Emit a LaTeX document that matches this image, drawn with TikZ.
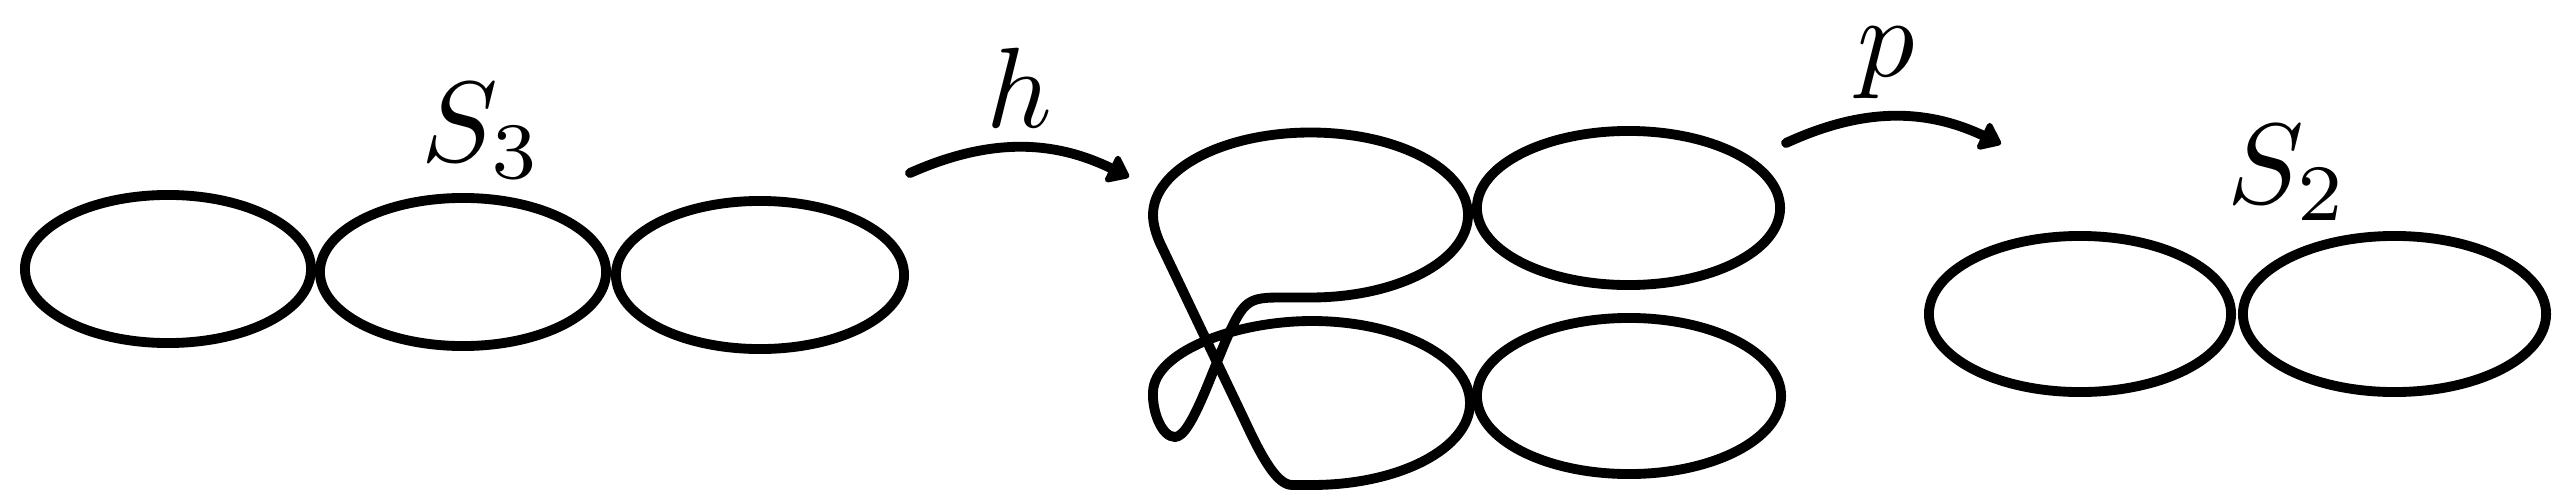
\documentclass[tikz,border=0pt]{standalone}
\usetikzlibrary{arrows.meta,shapes.geometric}
\begin{document}
\begin{tikzpicture}[x=0.01cm,y=-0.01cm,line width=2.8pt,line join=round,line cap=round,
  loopA/.style={draw,ellipse,inner sep=0pt,outer sep=0pt,line width=2.8pt},
  lbl/.style={scale=3.25,inner sep=0pt,anchor=base},
  maparrow/.style={-{Triangle[round,length=6.5pt,width=9.5pt]},bend left=25}]
\useasboundingbox (0,0) rectangle (2563,500);
% left figure S_3
\node[loopA,minimum width=2.86cm,minimum height=1.48cm] (a1) at (168,269) {};
\node[loopA,minimum width=2.86cm,minimum height=1.48cm] (a2) at (463,272) {};
\node[loopA,minimum width=2.88cm,minimum height=1.48cm] (a3) at (760,275) {};
\node[lbl] (s3) at (482,161) {$S_3$};
% arrow h
\coordinate (hs) at (910,173);
\coordinate (he) at (1129,177);
\draw[maparrow] (hs) to (he);
\node[lbl] (hl) at (1019,127) {$h$};
% middle figure
\node[loopA,minimum width=3.03cm,minimum height=1.54cm] (b2) at (1628.5,208) {};
\node[loopA,minimum width=3.04cm,minimum height=1.56cm] (b4) at (1629,396) {};
\draw (1153,215)
 .. controls (1153,169.4) and (1223.5,132.5) .. (1310.5,132.5)
 .. controls (1397.5,132.5) and (1468,169.4) .. (1468,215)
 .. controls (1468,260.6) and (1397.5,297.5) .. (1310.5,297.5)
 -- (1280,297.5)
 .. controls (1252,297.5) and (1245,300) .. (1232,327)
 .. controls (1214,364) and (1192,437) .. (1175,437)
 .. controls (1162,437) and (1152,412) .. (1153,392)
 .. controls (1154,352) and (1235,321) .. (1312,321)
 .. controls (1399.3,321) and (1470,357.7) .. (1470,403)
 .. controls (1470,448.3) and (1399.3,485) .. (1312,485)
 -- (1292,485)
 .. controls (1275,485) and (1258,449) .. (1243,417)
 -- (1160,243)
 .. controls (1156,234) and (1153,224) .. cycle;
% arrow p
\coordinate (ps) at (1786,143);
\coordinate (pe) at (2001,144);
\draw[maparrow] (ps) to (pe);
\node[lbl] (pl) at (1886,76) {$p$};
% right figure S_2
\node[loopA,minimum width=3.02cm,minimum height=1.56cm] (c1) at (2080,314) {};
\node[loopA,minimum width=3.03cm,minimum height=1.56cm] (c2) at (2394.5,314) {};
\node[lbl] (s2) at (2288,203) {$S_2$};
\end{tikzpicture}
\end{document}
